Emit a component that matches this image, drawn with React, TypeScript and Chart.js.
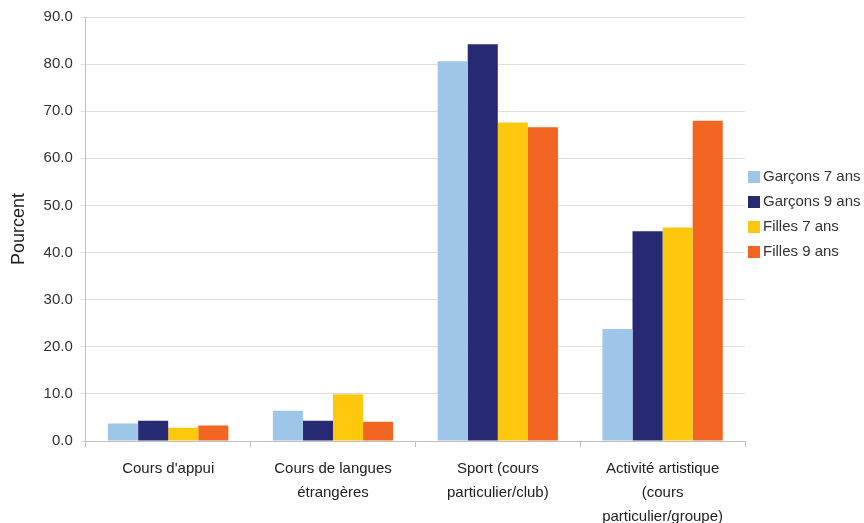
import React, { useEffect, useRef } from "react";
import { Chart, registerables } from "chart.js";

Chart.register(...registerables);

const categories: string[][] = [
  ["Cours d'appui"],
  ["Cours de langues", "étrangères"],
  ["Sport (cours", "particulier/club)"],
  ["Activité artistique", "(cours", "particulier/groupe)"],
];
const seriesNames = ["Garçons 7 ans", "Garçons 9 ans", "Filles 7 ans", "Filles 9 ans"];
const garcons7 = [3.7, 6.4, 80.6, 23.8];
const garcons9 = [4.3, 4.3, 84.2, 44.5];
const filles7 = [2.8, 9.9, 67.6, 45.3];
const filles9 = [3.3, 4.1, 66.6, 68.0];
const seriesColors = ["#9dc6e9", "#272a72", "#fec80f", "#f26522"];
const yTicksMax = 90;
const yStep = 10;

const FONT = "'Liberation Sans', Arial, sans-serif";

const customLegend = {
  id: "customLegend",
  afterDraw(chart: any) {
    const { ctx, chartArea } = chart;
    const x0 = chartArea.right + 3;
    const yStart = chartArea.top + 160;
    const gap = 25;
    ctx.save();
    ctx.font = `15px ${FONT}`;
    ctx.textBaseline = "middle";
    chart.data.datasets.forEach((ds: any, i: number) => {
      const y = yStart + i * gap;
      ctx.fillStyle = ds.backgroundColor;
      ctx.fillRect(x0, y - 6, 12, 12);
      ctx.fillStyle = "#333333";
      ctx.fillText(ds.label, x0 + 15, y);
    });
    ctx.restore();
  },
};

export default function App() {
  const ref = useRef<HTMLCanvasElement | null>(null);
  useEffect(() => {
    document.body.style.margin = "0";
    const data = [garcons7, garcons9, filles7, filles9];
    const chart = new Chart(ref.current as HTMLCanvasElement, {
      type: "bar",
      data: {
        labels: categories,
        datasets: seriesNames.map((name, i) => ({
          label: name,
          data: data[i],
          backgroundColor: seriesColors[i],
          borderWidth: 0,
          barPercentage: 1,
          categoryPercentage: 0.73,
        })),
      },
      options: {
        animation: false,
        responsive: false,
        maintainAspectRatio: false,
        layout: { padding: { top: 16, right: 119, left: 8, bottom: 0 } },
        plugins: {
          legend: { display: false },
          tooltip: { enabled: false },
        },
        scales: {
          x: {
            grid: {
              drawOnChartArea: false,
              color: "#bfbfbf",
              tickLength: 6,
            },
            border: { color: "#bfbfbf" },
            ticks: {
              color: "#222222",
              font: { family: FONT, size: 15, lineHeight: 1.6 },
              padding: 10,
              maxRotation: 0,
              autoSkip: false,
            },
          },
          y: {
            min: 0,
            max: yTicksMax,
            grid: { color: "#dddddd", tickLength: 5 },
            border: { color: "#bfbfbf" },
            ticks: {
              stepSize: yStep,
              color: "#333333",
              font: { family: FONT, size: 15 },
              padding: 8,
              callback: (v: any) => Number(v).toFixed(1),
            },
            title: {
              display: true,
              text: "Pourcent",
              color: "#222222",
              font: { family: FONT, size: 18 },
              padding: { top: 0, bottom: 6 },
            },
          },
        },
      },
      plugins: [customLegend],
    });
    return () => chart.destroy();
  }, []);
  return (
    <div style={{ width: 864, height: 523, overflow: "hidden" }}>
      <canvas ref={ref} width={864} height={539} style={{ display: "block" }} />
    </div>
  );
}
